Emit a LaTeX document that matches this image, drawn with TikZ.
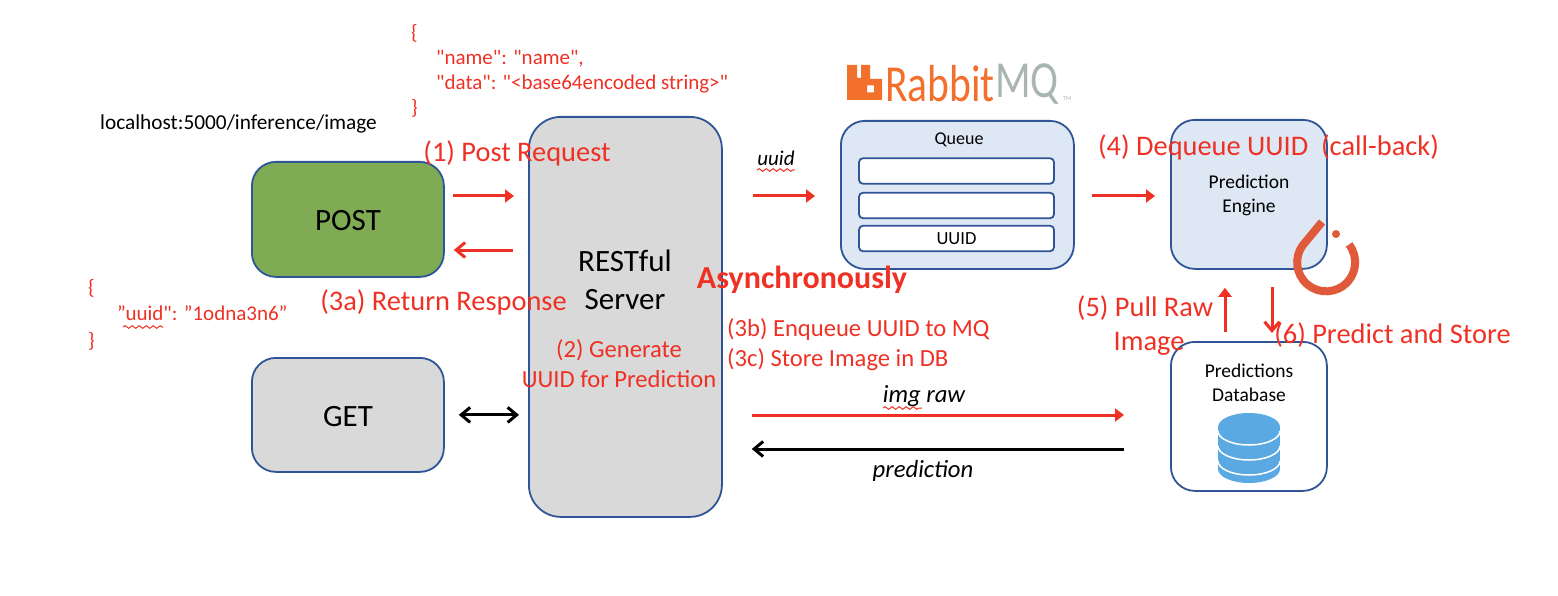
\documentclass[tikz,border=0pt]{standalone}
\usepackage{fontspec}
\setmainfont{Carlito}[Ligatures=TeXOff]
\usetikzlibrary{decorations.pathmorphing,arrows.meta}
\definecolor{redtxt}{HTML}{EE3124}
\definecolor{boxline}{HTML}{2F5597}
\definecolor{boxgreen}{HTML}{7FAB55}
\definecolor{boxgray}{HTML}{D9D9D9}
\definecolor{boxblue}{HTML}{DEE8F4}
\definecolor{rabbit}{HTML}{F26F2C}
\definecolor{mqgray}{HTML}{A9B5B0}
\definecolor{torch}{HTML}{E0593A}
\definecolor{dbblue}{HTML}{5BA9E2}
\newcommand{\FS}[1]{\fontsize{#1}{#1}\selectfont}
\tikzset{
  box/.style={draw=boxline, line width=1.8pt, rounded corners=#1, inner sep=0pt, anchor=north west},
  box/.default=24pt,
  slot/.style={draw=boxline, line width=1.8pt, fill=white, rounded corners=4pt, minimum width=195pt, minimum height=25.5pt, inner sep=0pt, font=\FS{18.5}},
  lbl/.style={text=redtxt, font=\FS{28.4}, inner sep=0pt, align=center},
  note/.style={text=redtxt, font=\FS{21}, inner sep=0pt, align=left, anchor=west},
  word/.style={inner sep=0pt, align=center, font=\FS{21.3}},
  redline/.style={draw=redtxt, line width=3pt},
  blackline/.style={draw=black, line width=3pt},
  headfill/.style={-{Triangle[length=9pt,width=13pt]}},
  headopen/.style={-{Straight Barb[length=9pt,width=15pt]}},
  squiggle/.style={draw=redtxt, line width=1pt, decorate, decoration={snake, amplitude=1.3pt, segment length=7pt}}
}

\begin{document}
\begin{tikzpicture}[x=1pt, y=-1pt]

  \useasboundingbox (0, 0) rectangle (1558, 596);

  %% main boxes
  \node[box, fill=boxgreen, minimum width=192pt, minimum height=115pt] (post) at (251, 161) {};
  \node[box, fill=boxgray, minimum width=192pt, minimum height=114pt] (get) at (251, 357) {};
  \node[box=32pt, fill=boxgray, minimum width=193pt, minimum height=400pt] (rest) at (528, 116) {};
  \node[box, fill=boxblue, minimum width=233pt, minimum height=148pt] (queue) at (840, 120) {};
  \node[box, fill=boxblue, minimum width=156pt, minimum height=149pt] (engine) at (1170, 119) {};
  \node[box, fill=white, minimum width=156pt, minimum height=149pt] (db) at (1170, 341) {};

  \node[slot] (slota) at (956.5, 171) {};
  \node[slot] (slotb) at (956.5, 205.5) {};
  \node[slot] (slotc) at (956.5, 238.5) {UUID};

  \node[word, font=\FS{31}] (postlbl) at (348, 220.5) {POST};
  \node[word, font=\FS{31}] (getlbl) at (348, 416.5) {GET};
  \node[word, font=\FS{31}] (restlbl) at (625, 280) {RESTful\\[7pt]Server};
  \node[word, font=\FS{18}] (queuelbl) at (959, 139.5) {Queue};
  \node[word, font=\FS{19.5}] (enginelbl) at (1249, 195) {Prediction\\[4.5pt]Engine};
  \node[word, font=\FS{19.5}] (dblbl) at (1249, 382.5) {Predictions\\[4.5pt]Database};
  \node[word, anchor=west] (url) at (100, 123.5) {localhost:5000/inference/image};

  %% pytorch logo
  \draw[torch, line width=8pt] (1349, 244.5) arc[start angle=38, end angle=-225, radius=29pt] -- (1322, 222);
  \fill[torch] (1336, 234) circle[radius=4pt];

  %% rabbit logo
  \fill[rabbit, even odd rule] (847, 65) -- (857, 65) -- (857, 78) -- (861, 78) -- (861, 65) -- (870, 65)
    -- (870, 79) -- (882, 79) -- (882, 100) -- (847, 100) -- cycle
    (867, 85.5) rectangle (874, 92.5);
  \node[inner sep=0pt, anchor=west, text=rabbit, font=\FS{52}] (rabbitlbl) at (885, 84) {\scalebox{0.8}[1]{Rabbit}};
  \node[inner sep=0pt, anchor=west, text=mqgray, font=\FS{52}] (mqlbl) at (rabbitlbl.east) {\scalebox{0.8}[1]{MQ}};
  \node[inner sep=0pt, anchor=west, text=mqgray, font=\FS{6}] (tmlbl) at (1063, 99) {TM};

  %% database icon
  \fill[dbblue] (1218, 427) rectangle (1280, 469);
  \fill[dbblue] (1249, 469) ellipse[x radius=31pt, y radius=14pt];
  \fill[dbblue] (1249, 427) ellipse[x radius=31pt, y radius=14pt];
  \foreach \h in {431, 446, 461} {
    \draw[white, line width=1.5pt] (1218, \h) arc[start angle=180, end angle=360, x radius=31pt, y radius=14pt];
  }

  %% red labels
  \node[lbl] (step1) at (517, 153.5) {(1) Post Request};
  \node[lbl] (step3a) at (443.5, 302.5) {(3a) Return Response};
  \node[lbl, font=\FS{24.6}] (step2) at (619, 364) {(2) Generate\\[5.5pt]UUID for Prediction};
  \node[lbl, font=\bfseries\FS{32}] (async) at (802, 279.5) {Asynchronously};
  \node[note, font=\FS{24.6}] (step3b) at (727, 329.5) {(3b) Enqueue UUID to MQ};
  \node[note, font=\FS{24.6}] (step3c) at (727, 359.5) {(3c) Store Image in DB};
  \node[lbl] (step4) at (1268.5, 147.5) {(4) Dequeue UUID~~(call-back)};
  \node[lbl] (step5) at (1145, 325.5) {(5) Pull Raw\\[5.6pt]\hspace*{8pt}Image};
  \node[lbl] (step6) at (1392.5, 335.5) {(6) Predict and Store};

  \node[note] (jsonin) at (411, 70.5) {\{\\[4pt]\hspace*{25pt}"name": "name",\\[4pt]\hspace*{25pt}"data": "<base64encoded string>"\\[4pt]\}};
  \node[note] (jsonout) at (88, 314.5) {\{\\[5.5pt]\hspace*{29pt}”uuid": ”1odna3n6”\\[5.5pt]\}};

  %% black labels on the lines
  \node[word, font=\itshape\FS{21}] (uuidlbl) at (776, 158) {uuid};
  \node[word, font=\itshape\FS{24.7}] (rawlbl) at (924, 396.5) {img raw};
  \node[word, font=\itshape\FS{24.7}] (predlbl) at (923, 470.5) {prediction};

  \draw[squiggle] (757, 170) -- (795, 170);
  \draw[squiggle] (883, 408) -- (922, 408);
  \draw[squiggle] (123, 327) -- (163, 327);

  %% connectors
  \draw[headfill, redline, shorten <=8pt, shorten >=14pt] (post.east |- 0, 196) -- (rest.west |- 0, 196); %% POST->REST
  \draw[headopen, redline, shorten <=15pt, shorten >=9pt] (rest.west |- 0, 250) -- (post.east |- 0, 250); %% REST->POST
  \draw[{Straight Barb[length=9pt,width=15pt]}-{Straight Barb[length=9pt,width=15pt]}, blackline, shorten <=14pt, shorten >=9pt] (get.east) -- (rest.west |- get.east); %% GET<->REST
  \draw[headfill, redline, shorten <=30pt, shorten >=25pt] (rest.east |- 0, 196) -- (queue.west |- 0, 196); %% REST->queue
  \draw[headfill, redline, shorten <=17pt, shorten >=15pt] (queue.east |- 0, 196) -- (engine.west |- 0, 196); %% queue->engine
  \draw[headfill, redline, shorten <=9pt, shorten >=18pt] (db.north -| 1225, 0) -- (engine.south -| 1225, 0); %% db->engine
  \draw[headopen, redline, shorten <=17pt, shorten >=8pt] (engine.south -| 1272, 0) -- (db.north -| 1272, 0); %% engine->db
  \draw[headfill, redline, shorten <=29pt, shorten >=46pt] (rest.east |- 0, 415) -- (db.west |- 0, 415); %% REST->db
  \draw[headopen, blackline, shorten <=46pt, shorten >=29pt] (db.west |- 0, 449) -- (rest.east |- 0, 449); %% db->REST
\end{tikzpicture}
\end{document}
